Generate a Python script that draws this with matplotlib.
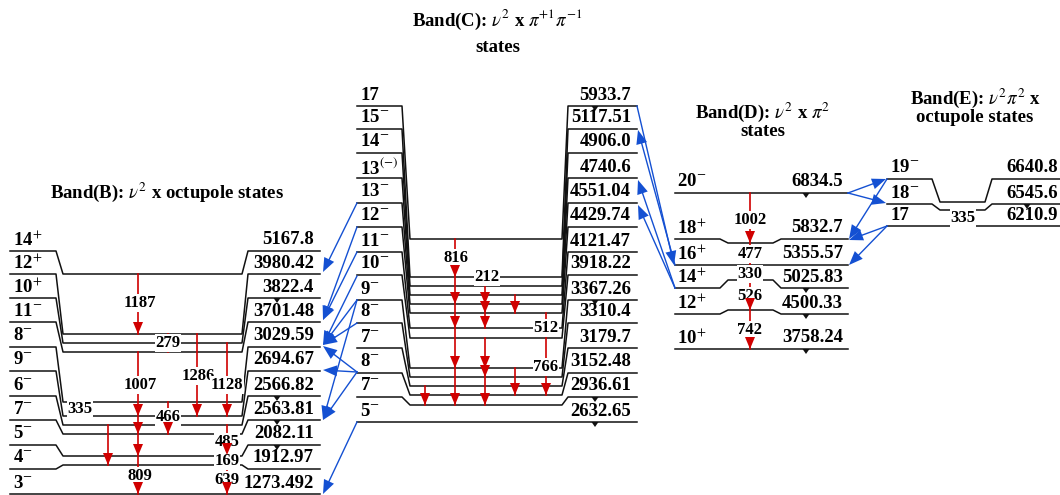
import matplotlib
matplotlib.use('Agg')
import matplotlib.pyplot as plt
from matplotlib.patches import Polygon
import numpy as np

plt.rcParams['font.family'] = ['Liberation Serif', 'DejaVu Serif']
plt.rcParams['mathtext.fontset'] = 'stix'

# ---- level data (spin, energy in keV) ----
b_spin = ['14+', '12+', '10+', '11-', '8-', '9-', '6-', '7-', '5-', '4-', '3-']
b_energy = ['5167.8', '3980.42', '3822.4', '3701.48', '3029.59', '2694.67',
            '2566.82', '2563.81', '2082.11', '1912.97', '1273.492']
c_spin = ['17', '15-', '14-', '13(-)', '13-', '12-', '11-', '10-', '9-', '8-',
          '7-', '8-', '7-', '5-']
c_energy = ['5933.7', '5117.51', '4906.0', '4740.6', '4551.04', '4429.74',
            '4121.47', '3918.22', '3367.26', '3310.4', '3179.7', '3152.48',
            '2936.61', '2632.65']
d_spin = ['20-', '18+', '16+', '14+', '12+', '10+']
d_energy = ['6834.5', '5832.7', '5355.57', '5025.83', '4500.33', '3758.24']
e_spin = ['19-', '18-', '17']
e_energy = ['6640.8', '6545.6', '6210.9']

# gamma-ray energies (keV) of labelled transitions
b_gammas = ['1187', '279', '1007', '1286', '1128', '335', '466', '485', '169', '809', '639']
c_gammas = ['816', '212', '512', '766']
d_gammas = ['1002', '477', '330', '526', '742']
e_gammas = ['335']

# ---- layout (pixel rows of the schematic) ----
b_row = [251, 274, 298, 322, 347, 371, 396, 420, 445, 469, 494]
b_mid = [274, 334, 343, 352, 402, 416, 425, 434, 456, 465, 494]
c_row = [106, 129, 153, 178, 203, 227, 252, 275, 300, 323, 348, 373, 397, 422]
c_mid = [239, 277, 286, 295, 304, 313, 328, 338, 368, 377, 386, 395, 405, 422]
d_row = [193, 239, 265, 288, 314, 349]
d_mid = [193, 243, 265, 280, 310, 349]
e_row = [179, 204, 226]
e_mid = [202, 210, 226]

fig = plt.figure(figsize=(10.6, 4.95), dpi=100)
ax = fig.add_axes([0, 0, 1, 1])
ax.set_xlim(0, 1060)
ax.set_ylim(495, 0)
ax.axis('off')

RED = '#d00000'
BLUE = '#1450d2'


def spin_label(s):
    if s.endswith('(-)'):
        return s[:-3] + r'$^{(-)}$'
    if s[-1] in '+-':
        return s[:-1] + r'$^{' + s[-1] + '}$'
    return s


def draw_band(spins, energies, rows, mids, geom, xs, xe):
    xl0, xl1, xm0, xm1, xr0, xr1 = geom
    for s, e, r, m in zip(spins, energies, rows, mids):
        if r == m:
            ax.plot([xl0, xr1], [r, r], color='#111', lw=1.1, zorder=2)
        else:
            ax.plot([xl0, xl1, xm0, xm1, xr0, xr1], [r, r, m, m, r, r],
                    color='#111', lw=1.1, zorder=2)
        ax.text(xs, r - 11, spin_label(s), fontsize=13.5, fontweight='bold',
                ha='left', va='center', zorder=5)
        ax.text(xe, r - 11, e, fontsize=13.5, fontweight='bold',
                ha='right', va='center', zorder=5)


draw_band(b_spin, b_energy, b_row, b_mid, (10, 56, 63, 242, 248, 320), 13, 314)
draw_band(c_spin, c_energy, c_row, c_mid, (357, 402, 410, 562, 568, 637), 360, 631)
draw_band(d_spin, d_energy, d_row, d_mid, (675, 720, 728, 773, 781, 848), 677, 843)
draw_band(e_spin, e_energy, e_row, e_mid, (887, 932, 940, 985, 992, 1060), 890, 1058)


def red_arrow(x, y0, y1, heads):
    ax.plot([x, x], [y0, y1], color=RED, lw=1.2, zorder=3)
    for h in heads:
        ax.add_patch(Polygon([(x - 5, h - 12), (x + 5, h - 12), (x, h)],
                             closed=True, fc=RED, ec='none', zorder=7))


red_segments = [
    (138, 274, 334, [334]), (138, 352, 494, [416, 434, 456, 494]),
    (168, 334, 352, []), (168, 402, 434, [434]), (197, 334, 416, [416]),
    (227, 343, 416, [416]), (227, 425, 494, [455, 494]), (108, 425, 465, [465]),
    (455, 239, 405, [277, 304, 328, 368, 405]), (485, 286, 328, [304, 313, 328]),
    (485, 338, 405, [368, 377, 405]), (515, 295, 313, [313]),
    (515, 368, 395, [395]), (546, 313, 395, [395]), (425, 386, 405, [405]),
    (750, 193, 349, [243, 310, 349]),
]
for seg in red_segments:
    red_arrow(*seg)


def blue_arrow(x0, y0, x1, y1):
    d = np.array([x1 - x0, y1 - y0], float)
    d /= np.hypot(*d)
    n = np.array([-d[1], d[0]])
    tip = np.array([x1, y1], float)
    base = tip - 14 * d
    ax.plot([x0, base[0]], [y0, base[1]], color=BLUE, lw=1.0, zorder=3)
    ax.add_patch(Polygon([tip, base + 5.5 * n, base - 5.5 * n], closed=True,
                         fc=BLUE, ec='none', zorder=4))


blue_links = [
    (357, 203, 323, 272), (357, 227, 323, 320), (357, 252, 323, 320),
    (357, 276, 323, 345), (357, 300, 323, 345), (357, 323, 323, 345),
    (357, 300, 323, 420), (357, 372, 323, 346), (357, 372, 323, 370),
    (357, 372, 323, 420), (357, 422, 323, 494),
    (637, 106, 674, 265), (675, 265, 638, 130), (675, 288, 638, 180),
    (675, 288, 638, 205),
    (848, 193, 886, 179), (848, 193, 886, 203), (887, 179, 849, 239),
    (887, 226, 849, 240), (887, 226, 849, 265),
]
for link in blue_links:
    blue_arrow(*link)

# small black markers hanging below levels
for x, y in [(277, 298), (277, 396), (277, 420), (277, 445), (595, 106),
             (595, 300), (595, 397), (595, 422), (806, 193), (806, 288),
             (806, 314), (806, 349), (1027, 204)]:
    ax.add_patch(Polygon([(x - 3.5, y), (x + 3.5, y), (x, y + 5)], closed=True,
                         fc='#111', ec='none', zorder=4))

# transition labels
gamma_pos = {
    'b': [(140, 303), (168, 343), (140, 385), (198, 376), (227, 385), (80, 409),
          (168, 417), (227, 442), (227, 461), (140, 476), (227, 480)],
    'c': [(456, 258), (487, 277), (546, 328), (546, 367)],
    'd': [(750, 220), (750, 254), (750, 274), (750, 296), (750, 330)],
    'e': [(963, 218)],
}
for key, gams in zip('bcde', [b_gammas, c_gammas, d_gammas, e_gammas]):
    for g, (x, y) in zip(gams, gamma_pos[key]):
        ax.text(x, y, g, fontsize=12, fontweight='bold', ha='center', va='center',
                zorder=6, bbox=dict(fc='white', ec='none', pad=0.6))

# band titles
tkw = dict(fontsize=13.5, fontweight='bold', ha='center', va='center')
ax.text(167, 192, r'Band(B): $\nu^2$ x octupole states', **tkw)
ax.text(497, 20, r'Band(C): $\nu^2$ x $\pi^{+1}\pi^{-1}$', **tkw)
ax.text(498, 47, 'states', **tkw)
ax.text(763, 112, r'Band(D): $\nu^2$ x $\pi^2$', **tkw)
ax.text(763, 132, 'states', **tkw)
ax.text(975, 98, r'Band(E): $\nu^2\pi^2$ x', **tkw)
ax.text(975, 117, 'octupole states', **tkw)

fig.savefig('out.png', dpi=100)
